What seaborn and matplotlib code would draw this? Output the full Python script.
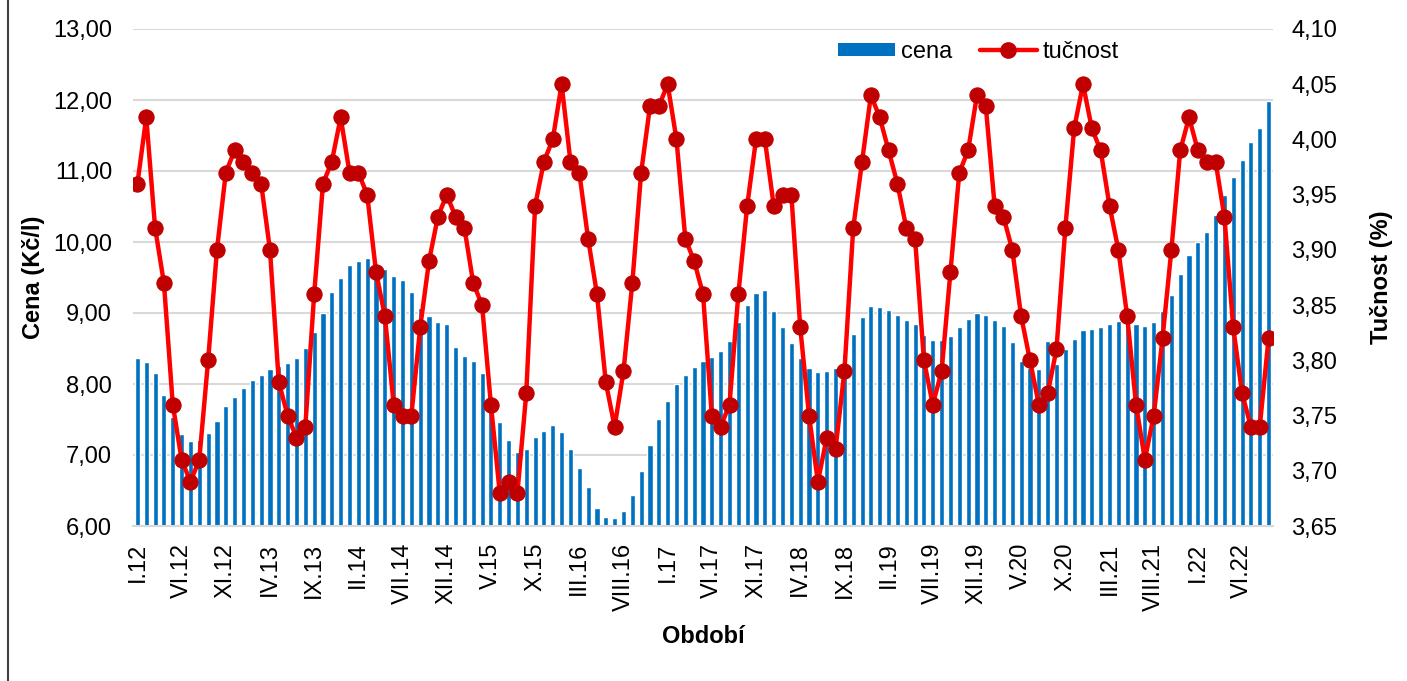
import matplotlib
matplotlib.use("Agg")
import matplotlib.pyplot as plt
from matplotlib.lines import Line2D
from matplotlib.patches import Patch
from matplotlib.ticker import FuncFormatter, FixedLocator
import numpy as np
import pandas as pd
import seaborn as sns

# měsíce I.12 .. IX.22
roman = ["I", "II", "III", "IV", "V", "VI", "VII", "VIII", "IX", "X", "XI", "XII"]
years = list(range(12, 23))
months = [f"{r}.{y}" for y in years for r in roman][:129]

cena = [8.36, 8.31, 8.15, 7.84, 7.53, 7.30, 7.20, 7.21, 7.31, 7.48, 7.69, 7.81,
        7.94, 8.06, 8.13, 8.21, 8.25, 8.29, 8.36, 8.51, 8.73, 9.00, 9.29, 9.50,
        9.67, 9.73, 9.77, 9.66, 9.62, 9.52, 9.47, 9.29, 9.07, 8.96, 8.87, 8.84,
        8.52, 8.40, 8.32, 8.16, 7.82, 7.47, 7.21, 7.04, 7.08, 7.25, 7.34, 7.42,
        7.33, 7.09, 6.82, 6.55, 6.26, 6.13, 6.11, 6.21, 6.43, 6.77, 7.14, 7.51,
        7.76, 8.00, 8.13, 8.24, 8.32, 8.38, 8.46, 8.61, 8.87, 9.11, 9.28, 9.33,
        9.03, 8.80, 8.58, 8.36, 8.23, 8.17, 8.19, 8.23, 8.42, 8.71, 8.94, 9.10,
        9.08, 9.04, 8.97, 8.90, 8.85, 8.69, 8.62, 8.62, 8.67, 8.80, 8.92, 9.00,
        8.97, 8.90, 8.82, 8.59, 8.32, 8.22, 8.21, 8.61, 8.28, 8.49, 8.64, 8.76,
        8.78, 8.80, 8.84, 8.89, 8.87, 8.85, 8.82, 8.87, 9.03, 9.26, 9.55, 9.81,
        10.00, 10.14, 10.38, 10.66, 10.91, 11.15, 11.41, 11.61, 11.98]

tucnost = [3.96, 4.02, 3.92, 3.87, 3.76, 3.71, 3.69, 3.71, 3.80, 3.90, 3.97, 3.99,
           3.98, 3.97, 3.96, 3.90, 3.78, 3.75, 3.73, 3.74, 3.86, 3.96, 3.98, 4.02,
           3.97, 3.97, 3.95, 3.88, 3.84, 3.76, 3.75, 3.75, 3.83, 3.89, 3.93, 3.95,
           3.93, 3.92, 3.87, 3.85, 3.76, 3.68, 3.69, 3.68, 3.77, 3.94, 3.98, 4.00,
           4.05, 3.98, 3.97, 3.91, 3.86, 3.78, 3.74, 3.79, 3.87, 3.97, 4.03, 4.03,
           4.05, 4.00, 3.91, 3.89, 3.86, 3.75, 3.74, 3.76, 3.86, 3.94, 4.00, 4.00,
           3.94, 3.95, 3.95, 3.83, 3.75, 3.69, 3.73, 3.72, 3.79, 3.92, 3.98, 4.04,
           4.02, 3.99, 3.96, 3.92, 3.91, 3.80, 3.76, 3.79, 3.88, 3.97, 3.99, 4.04,
           4.03, 3.94, 3.93, 3.90, 3.84, 3.80, 3.76, 3.77, 3.81, 3.92, 4.01, 4.05,
           4.01, 3.99, 3.94, 3.90, 3.84, 3.76, 3.71, 3.75, 3.82, 3.90, 3.99, 4.02,
           3.99, 3.98, 3.98, 3.93, 3.83, 3.77, 3.74, 3.74, 3.82]

df = pd.DataFrame({"obdobi": months, "cena": cena, "tucnost": tucnost})
n = len(df)

sns.set_style("white")
plt.rcParams["font.family"] = ["Liberation Sans", "DejaVu Sans"]
plt.rcParams["text.color"] = "black"
plt.rcParams["axes.labelcolor"] = "black"
plt.rcParams["xtick.color"] = "black"
plt.rcParams["ytick.color"] = "black"
FS = 17

fig = plt.figure(figsize=(14.07, 6.81), dpi=100)
ax = fig.add_axes([133 / 1407, 1 - 526 / 681, 1140 / 1407, (526 - 29) / 681])

sns.barplot(data=df, x="obdobi", y="cena", color="#0070C0", saturation=1,
            width=0.58, ax=ax, zorder=2)
ax.set_xlim(-0.5, n - 0.5)
ax.set_ylim(6, 13)
ax.set_yticks(range(6, 14))
ax.yaxis.set_major_formatter(FuncFormatter(lambda v, p: f"{v:.2f}".replace(".", ",")))
ax.yaxis.grid(True, color="#D9D9D9", lw=1.5)
ax.set_axisbelow(True)

pos = list(range(0, n, 5))
ax.set_xticks(pos)
ax.set_xticklabels([months[i] for i in pos], rotation=90, fontsize=FS)
ax.xaxis.set_minor_locator(FixedLocator([p - 0.5 for p in pos]))
ax.tick_params(axis="x", which="major", length=0, pad=12)
ax.tick_params(axis="x", which="minor", length=7, color="#D9D9D9", width=1.5)
ax.tick_params(axis="y", length=0, pad=15, labelsize=FS)
for s in ["top", "left", "right"]:
    ax.spines[s].set_visible(False)
ax.spines["bottom"].set_color("#D9D9D9")
ax.spines["bottom"].set_linewidth(1.5)
ax.set_xlabel("Období", fontsize=FS, fontweight="bold", labelpad=10)
ax.set_ylabel("Cena (Kč/l)", fontsize=FS, fontweight="bold", labelpad=6)

ax2 = ax.twinx()
sns.lineplot(x=np.arange(n), y=df["tucnost"], ax=ax2, color="#FF0000", lw=3.2,
             marker="o", markersize=11, markerfacecolor="#C00000",
             markeredgecolor="#C00000", zorder=3)
ax2.set_xlim(-0.5, n - 0.5)
ax2.set_ylim(3.65, 4.10)
ax2.set_yticks(np.linspace(3.65, 4.10, 10))
ax2.yaxis.set_major_formatter(FuncFormatter(lambda v, p: f"{v:.2f}".replace(".", ",")))
ax2.tick_params(axis="y", length=0, pad=13, labelsize=FS)
for s in ax2.spines.values():
    s.set_visible(False)
ax2.set_ylabel("Tučnost (%)", fontsize=FS, fontweight="bold", labelpad=24)

handles = [Patch(facecolor="#0070C0", edgecolor="none"),
           Line2D([], [], color="#FF0000", lw=3.2, marker="o", markersize=11,
                  markerfacecolor="#C00000", markeredgecolor="#C00000")]
fig.legend(handles, ["cena", "tučnost"], loc="center left",
           bbox_to_anchor=(838 / 1407, 1 - 52 / 681), ncol=2, frameon=False,
           fontsize=FS, handlelength=2.4, handleheight=0.5, handletextpad=0.25,
           columnspacing=1.2, borderpad=0, borderaxespad=0)

fig.add_artist(Line2D([8 / 1407, 8 / 1407], [0, 1], color="#404040", lw=1.5,
                      transform=fig.transFigure))

fig.savefig("out.png", dpi=100)
